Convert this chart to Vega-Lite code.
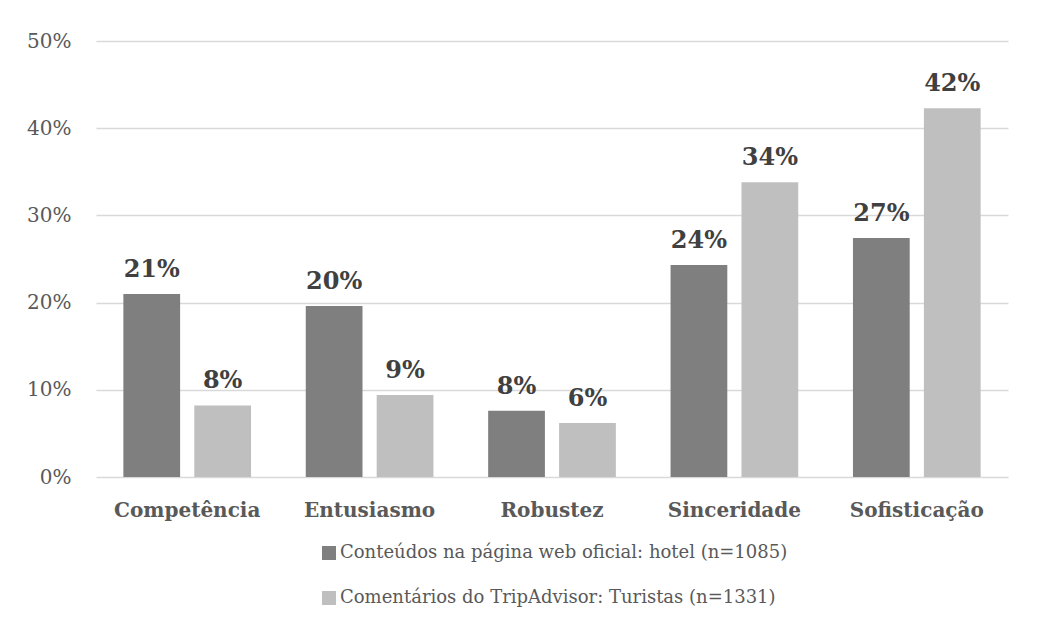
{
  "$schema": "https://vega.github.io/schema/vega-lite/v6.json",
  "width": 912,
  "height": 436,
  "autosize": {"type": "none"},
  "padding": {"left": 96, "top": 41, "right": 31, "bottom": 154},
  "background": "white",
  "config": {
    "view": {"stroke": null},
    "font": "DejaVu Serif"
  },
  "data": {
    "values": [
      {"dimensao": "Competência", "serie": "Conteúdos na página web oficial: hotel (n=1085)", "valor": 0.210},
      {"dimensao": "Competência", "serie": "Comentários do TripAdvisor: Turistas (n=1331)", "valor": 0.082},
      {"dimensao": "Entusiasmo", "serie": "Conteúdos na página web oficial: hotel (n=1085)", "valor": 0.196},
      {"dimensao": "Entusiasmo", "serie": "Comentários do TripAdvisor: Turistas (n=1331)", "valor": 0.094},
      {"dimensao": "Robustez", "serie": "Conteúdos na página web oficial: hotel (n=1085)", "valor": 0.076},
      {"dimensao": "Robustez", "serie": "Comentários do TripAdvisor: Turistas (n=1331)", "valor": 0.062},
      {"dimensao": "Sinceridade", "serie": "Conteúdos na página web oficial: hotel (n=1085)", "valor": 0.243},
      {"dimensao": "Sinceridade", "serie": "Comentários do TripAdvisor: Turistas (n=1331)", "valor": 0.338},
      {"dimensao": "Sofisticação", "serie": "Conteúdos na página web oficial: hotel (n=1085)", "valor": 0.274},
      {"dimensao": "Sofisticação", "serie": "Comentários do TripAdvisor: Turistas (n=1331)", "valor": 0.423}
    ]
  },
  "encoding": {
    "x": {
      "field": "dimensao",
      "type": "nominal",
      "sort": null,
      "scale": {"paddingInner": 0.3, "paddingOuter": 0.15},
      "axis": {
        "title": null,
        "labelAngle": 0,
        "labelFont": "DejaVu Serif",
        "labelFontSize": 20,
        "labelFontWeight": "bold",
        "labelColor": "#595959",
        "labelBaseline": "alphabetic",
        "labelPadding": 39,
        "ticks": false,
        "tickSize": 0,
        "domain": false,
        "grid": false
      }
    },
    "xOffset": {
      "field": "serie",
      "type": "nominal",
      "sort": null,
      "scale": {"paddingInner": 0.2, "paddingOuter": 0}
    },
    "y": {
      "field": "valor",
      "type": "quantitative",
      "scale": {"domain": [0, 0.5]},
      "axis": {
        "title": null,
        "values": [0, 0.1, 0.2, 0.3, 0.4, 0.5],
        "format": ".0%",
        "labelFont": "DejaVu Serif",
        "labelFontSize": 20,
        "labelColor": "#595959",
        "labelPadding": 25,
        "ticks": false,
        "tickSize": 0,
        "domain": false,
        "grid": true,
        "gridColor": "#d9d9d9",
        "gridWidth": 1.5
      }
    }
  },
  "layer": [
    {
      "mark": {"type": "bar"},
      "encoding": {
        "color": {
          "field": "serie",
          "type": "nominal",
          "sort": null,
          "scale": {
            "domain": ["Conteúdos na página web oficial: hotel (n=1085)", "Comentários do TripAdvisor: Turistas (n=1331)"],
            "range": ["#7f7f7f", "#bfbfbf"]
          },
          "legend": {
            "title": null,
            "orient": "none",
            "legendX": 224,
            "legendY": 503,
            "direction": "vertical",
            "symbolType": "square",
            "symbolSize": 196,
            "symbolStrokeWidth": 0,
            "labelFont": "DejaVu Serif",
            "labelFontSize": 18,
            "labelColor": "#595959",
            "labelOffset": 2,
            "labelLimit": 600,
            "rowPadding": 27
          }
        }
      }
    },
    {
      "mark": {
        "type": "text",
        "font": "DejaVu Serif",
        "fontSize": 24,
        "fontWeight": "bold",
        "color": "#404040",
        "baseline": "alphabetic",
        "dy": -17
      },
      "encoding": {
        "text": {"field": "valor", "type": "quantitative", "format": ".0%"}
      }
    }
  ]
}
